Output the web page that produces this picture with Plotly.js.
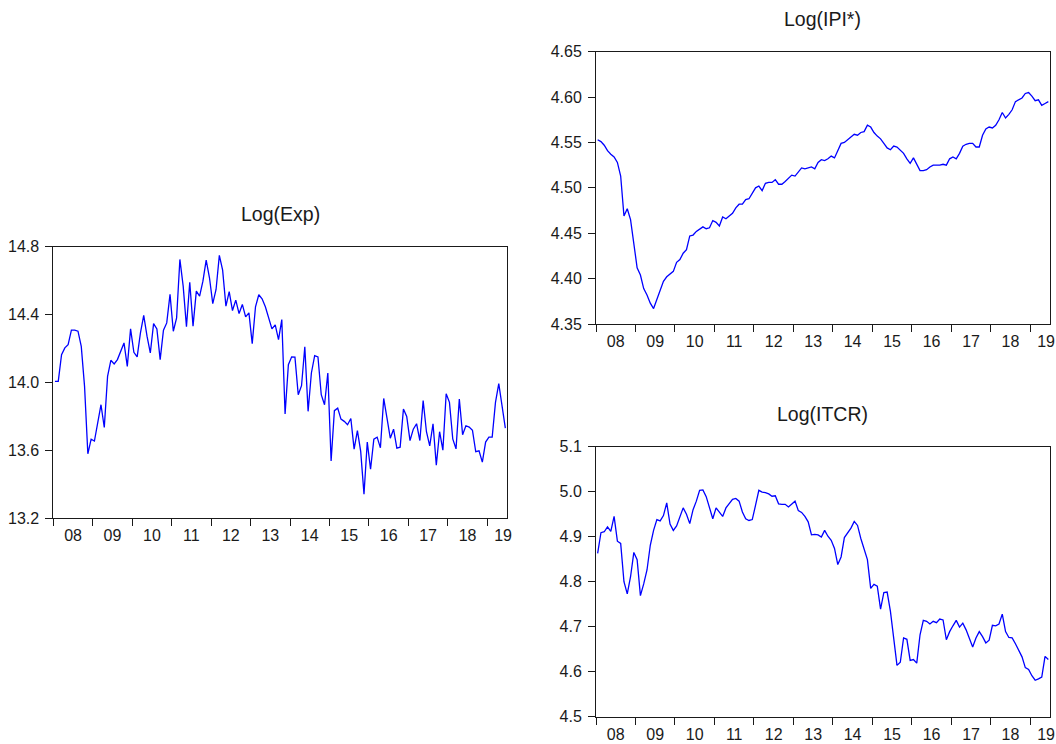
<!DOCTYPE html>
<html><head><meta charset="utf-8">
<script src="https://cdn.plot.ly/plotly-3.0.1.min.js"></script>
<style>html,body{margin:0;padding:0;background:#fff;} #chart{width:1056px;height:744px;}</style>
</head><body><div id="chart"></div>
<script>
// Monthly observations, 2008M01 - 2019M06
const yearLabels = ['08','09','10','11','12','13','14','15','16','17','18','19'];
const panelTitles = ['Log(Exp)', 'Log(IPI*)', 'Log(ITCR)'];

const expVals = [
14.007, 14.007, 14.164, 14.204, 14.223, 14.308, 14.308, 14.302, 14.213, 13.977,
13.580, 13.666, 13.655, 13.765, 13.869, 13.735, 14.036, 14.131, 14.109, 14.135,
14.184, 14.233, 14.095, 14.316, 14.178, 14.151, 14.292, 14.395, 14.273, 14.174,
14.347, 14.316, 14.135, 14.308, 14.351, 14.519, 14.302, 14.381, 14.725, 14.568,
14.328, 14.591, 14.332, 14.538, 14.509, 14.597, 14.721, 14.617, 14.465, 14.548,
14.749, 14.662, 14.450, 14.536, 14.424, 14.485, 14.406, 14.460, 14.387, 14.410,
14.229, 14.446, 14.517, 14.493, 14.446, 14.387, 14.316, 14.339, 14.253, 14.371,
13.814, 14.105, 14.151, 14.149, 13.928, 13.981, 14.210, 13.830, 14.056, 14.158,
14.151, 13.928, 13.869, 14.056, 13.538, 13.834, 13.849, 13.784, 13.771, 13.751,
13.788, 13.607, 13.716, 13.594, 13.342, 13.649, 13.489, 13.666, 13.678, 13.615,
13.906, 13.790, 13.672, 13.725, 13.613, 13.619, 13.844, 13.800, 13.658, 13.725,
13.757, 13.658, 13.893, 13.710, 13.627, 13.757, 13.513, 13.710, 13.601, 13.934,
13.883, 13.668, 13.609, 13.903, 13.692, 13.745, 13.737, 13.718, 13.592, 13.597,
13.531, 13.649, 13.678, 13.678, 13.883, 13.993, 13.859, 13.731
];

const ipiVals = [
4.553, 4.551, 4.547, 4.541, 4.537, 4.534, 4.528, 4.513, 4.469, 4.477,
4.465, 4.437, 4.412, 4.404, 4.389, 4.382, 4.373, 4.367, 4.377, 4.388,
4.397, 4.402, 4.405, 4.408, 4.418, 4.421, 4.428, 4.432, 4.447, 4.448,
4.452, 4.455, 4.457, 4.455, 4.456, 4.464, 4.462, 4.458, 4.468, 4.466,
4.469, 4.472, 4.478, 4.482, 4.482, 4.487, 4.488, 4.494, 4.500, 4.502,
4.497, 4.505, 4.506, 4.506, 4.509, 4.504, 4.504, 4.507, 4.511, 4.514,
4.513, 4.517, 4.522, 4.521, 4.522, 4.523, 4.521, 4.528, 4.531, 4.530,
4.532, 4.535, 4.533, 4.541, 4.549, 4.550, 4.553, 4.556, 4.559, 4.558,
4.561, 4.562, 4.569, 4.567, 4.561, 4.557, 4.554, 4.549, 4.544, 4.542,
4.546, 4.545, 4.542, 4.538, 4.532, 4.527, 4.533, 4.526, 4.519, 4.519,
4.520, 4.523, 4.525, 4.525, 4.525, 4.526, 4.525, 4.532, 4.534, 4.532,
4.538, 4.546, 4.548, 4.549, 4.549, 4.545, 4.545, 4.558, 4.565, 4.567,
4.566, 4.569, 4.575, 4.583, 4.577, 4.581, 4.586, 4.595, 4.597, 4.599,
4.604, 4.605, 4.601, 4.596, 4.597, 4.591, 4.593, 4.595
];

const itcrVals = [
4.863, 4.909, 4.911, 4.922, 4.912, 4.945, 4.890, 4.885, 4.800, 4.773,
4.811, 4.865, 4.849, 4.769, 4.795, 4.826, 4.881, 4.914, 4.938, 4.935,
4.947, 4.975, 4.928, 4.914, 4.924, 4.945, 4.964, 4.950, 4.929, 4.960,
4.979, 5.003, 5.004, 4.989, 4.966, 4.940, 4.964, 4.953, 4.945, 4.964,
4.973, 4.983, 4.985, 4.979, 4.955, 4.940, 4.936, 4.938, 4.970, 5.003,
4.999, 4.998, 4.995, 4.990, 4.991, 4.973, 4.972, 4.972, 4.966, 4.972,
4.979, 4.958, 4.954, 4.945, 4.933, 4.904, 4.905, 4.904, 4.899, 4.914,
4.901, 4.892, 4.874, 4.838, 4.855, 4.898, 4.908, 4.919, 4.934, 4.925,
4.896, 4.874, 4.849, 4.785, 4.794, 4.790, 4.739, 4.776, 4.777, 4.734,
4.678, 4.614, 4.621, 4.675, 4.672, 4.625, 4.627, 4.619, 4.682, 4.714,
4.712, 4.706, 4.712, 4.709, 4.717, 4.715, 4.671, 4.689, 4.702, 4.714,
4.699, 4.708, 4.693, 4.675, 4.655, 4.675, 4.689, 4.678, 4.664, 4.670,
4.703, 4.702, 4.706, 4.728, 4.689, 4.676, 4.675, 4.662, 4.647, 4.633,
4.609, 4.605, 4.591, 4.581, 4.584, 4.588, 4.634, 4.627
];

const expTicks = [13.2, 13.6, 14.0, 14.4, 14.8];
const ipiTicks = [4.35, 4.40, 4.45, 4.50, 4.55, 4.60, 4.65];
const itcrTicks = [4.5, 4.6, 4.7, 4.8, 4.9, 5.0, 5.1];

const n = expVals.length;
const idx = expVals.map((_, i) => i);

const FONT = 'Liberation Sans, Arial, sans-serif';
const TXT = '#1a1a1a';
const LINE = '#1a1a1a';

function xAxis(domain, anchor) {
  const bounds = yearLabels.map((_, k) => 12 * k - 0.5);
  const mids = yearLabels.map((_, k) => Math.min(12 * k + 5.5, n - 1.7));
  return {
    domain: domain, anchor: anchor,
    range: [-0.5, n - 0.5],
    tickmode: 'array', tickvals: mids, ticktext: yearLabels,
    ticks: '', showline: true, mirror: true, linecolor: LINE, linewidth: 1,
    ticklabelstandoff: 3,
    showgrid: false, zeroline: false,
    tickfont: {family: FONT, size: 16, color: TXT},
    minor: {tickmode: 'array', tickvals: bounds, ticks: 'outside', ticklen: 7,
            tickcolor: LINE, tickwidth: 1, showgrid: false},
    fixedrange: true
  };
}
function yAxis(domain, anchor, range, ticks, fmt) {
  return {
    domain: domain, anchor: anchor, range: range,
    tickmode: 'array', tickvals: ticks, tickformat: fmt,
    ticks: 'outside', ticklen: 7, tickcolor: LINE, tickwidth: 1,
    ticklabelstandoff: 3,
    showline: true, mirror: true, linecolor: LINE, linewidth: 1,
    showgrid: false, zeroline: false,
    tickfont: {family: FONT, size: 16, color: TXT},
    fixedrange: true
  };
}

const lineStyle = {color: '#0000ff', width: 1.3};
const traces = [
  {x: idx, y: expVals, xaxis: 'x', yaxis: 'y', type: 'scatter', mode: 'lines', line: lineStyle, hoverinfo: 'skip'},
  {x: idx, y: ipiVals, xaxis: 'x2', yaxis: 'y2', type: 'scatter', mode: 'lines', line: lineStyle, hoverinfo: 'skip'},
  {x: idx, y: itcrVals, xaxis: 'x3', yaxis: 'y3', type: 'scatter', mode: 'lines', line: lineStyle, hoverinfo: 'skip'}
];

function titleAnn(text, xr, yr) {
  return {text: text, xref: xr + ' domain', yref: yr + ' domain', x: 0.5, y: 1,
          xanchor: 'center', yanchor: 'middle', yshift: 33, showarrow: false,
          font: {family: FONT, size: 19.5, color: TXT}};
}

const layout = {
  width: 1056, height: 744,
  margin: {l: 0, r: 0, t: 0, b: 0},
  paper_bgcolor: '#fff', plot_bgcolor: '#fff',
  showlegend: false,
  xaxis: xAxis([0.0505, 0.4801], 'y'),
  yaxis: yAxis([0.3034, 0.6684], 'x', [13.2, 14.8], expTicks, '.1f'),
  xaxis2: xAxis([0.5644, 0.9943], 'y2'),
  yaxis2: yAxis([0.5645, 0.9305], 'x2', [4.35, 4.65], ipiTicks, '.2f'),
  xaxis3: xAxis([0.5644, 0.9943], 'y3'),
  yaxis3: yAxis([0.0367, 0.3996], 'x3', [4.5, 5.1], itcrTicks, '.1f'),
  annotations: [
    titleAnn(panelTitles[0], 'x', 'y'),
    titleAnn(panelTitles[1], 'x2', 'y2'),
    titleAnn(panelTitles[2], 'x3', 'y3')
  ]
};

Plotly.newPlot('chart', traces, layout, {staticPlot: true, displayModeBar: false});
</script>
</body></html>
